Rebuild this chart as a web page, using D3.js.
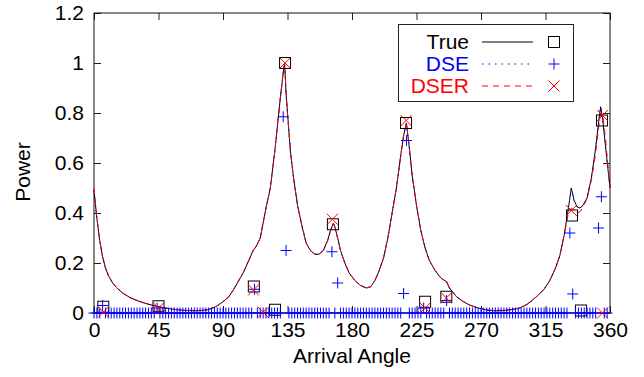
<!DOCTYPE html>
<html>
<head>
<meta charset="utf-8">
<script src="https://cdn.jsdelivr.net/npm/d3@7"></script>
<style>
  body { margin: 0; background: #fff; }
  text { font-family: "Liberation Sans", Arial, sans-serif; }
</style>
</head>
<body>
<div id="chart-area"></div>
<script>
// continuous spectra (angle in degrees, power)
var curveAngles = [0, 2, 4, 6, 8, 10, 13, 16, 20, 25, 30, 35, 40, 45, 50, 55, 60, 65, 70, 75,
    80, 85, 90, 94, 97, 100, 104, 108, 111, 113, 116, 118, 120, 123, 126, 128, 130, 132, 133, 134,
    135, 137, 139, 142, 145, 148, 151, 154, 157, 160, 163, 165, 167, 168, 170, 172, 175, 178, 182, 186,
    190, 193, 196, 199, 202, 205, 208, 211, 214, 216, 218, 220, 222, 225, 228, 231, 234, 238, 242, 246,
    248, 250, 253, 257, 262, 268, 274, 280, 286, 292, 297, 302, 306, 310, 314, 318, 322, 325, 328, 331,
    333, 335, 337, 339, 341, 344, 347, 350, 352, 353.5, 355, 357, 360];

var truePower = [0.49, 0.38, 0.29, 0.225, 0.18, 0.15, 0.12, 0.1, 0.08, 0.062, 0.05, 0.04, 0.032, 0.025, 0.02, 0.015, 0.012, 0.01, 0.009, 0.01,
    0.014, 0.025, 0.045, 0.065, 0.09, 0.12, 0.16, 0.21, 0.25, 0.265, 0.3, 0.36, 0.42, 0.5, 0.64, 0.75, 0.86, 0.96, 1.0, 0.88,
    0.8, 0.65, 0.55, 0.43, 0.35, 0.28, 0.25, 0.235, 0.235, 0.25, 0.29, 0.33, 0.36, 0.345, 0.3, 0.25, 0.2, 0.16, 0.13, 0.11,
    0.1, 0.105, 0.13, 0.17, 0.22, 0.3, 0.4, 0.5, 0.63, 0.71, 0.76, 0.66, 0.55, 0.43, 0.33, 0.26, 0.21, 0.17, 0.14, 0.125,
    0.1, 0.085, 0.065, 0.048, 0.032, 0.02, 0.012, 0.009, 0.01, 0.014, 0.02, 0.034, 0.052, 0.072, 0.095, 0.13, 0.18, 0.23, 0.31, 0.42,
    0.5, 0.45, 0.425, 0.42, 0.43, 0.46, 0.54, 0.66, 0.76, 0.825, 0.77, 0.66, 0.5];

// DSE spectrum lies on top of the true one
var dsePower = truePower;

var dserPower = [0.5, 0.38, 0.29, 0.225, 0.18, 0.15, 0.12, 0.1, 0.08, 0.062, 0.05, 0.04, 0.032, 0.025, 0.02, 0.015, 0.012, 0.01, 0.009, 0.01,
    0.014, 0.025, 0.045, 0.065, 0.09, 0.12, 0.16, 0.21, 0.25, 0.265, 0.3, 0.36, 0.42, 0.5, 0.64, 0.75, 0.86, 0.96, 1.0, 0.88,
    0.8, 0.65, 0.55, 0.43, 0.35, 0.28, 0.25, 0.235, 0.235, 0.25, 0.29, 0.33, 0.36, 0.345, 0.3, 0.25, 0.2, 0.16, 0.13, 0.11,
    0.1, 0.105, 0.13, 0.17, 0.22, 0.3, 0.4, 0.5, 0.63, 0.71, 0.76, 0.66, 0.55, 0.43, 0.33, 0.26, 0.21, 0.17, 0.14, 0.125,
    0.1, 0.085, 0.065, 0.048, 0.032, 0.02, 0.012, 0.009, 0.01, 0.014, 0.02, 0.034, 0.052, 0.072, 0.095, 0.13, 0.18, 0.23, 0.31, 0.4,
    0.42, 0.41, 0.4, 0.405, 0.42, 0.46, 0.53, 0.64, 0.74, 0.8, 0.79, 0.69, 0.5];

// sparse estimates
var trueAngles = [6.5, 45, 111.5, 126.3, 133.3, 166.7, 217.7, 231, 245.8, 333.5, 339.7, 354.4];
var trueValues = [0.025, 0.027, 0.106, 0.013, 1.0, 0.355, 0.76, 0.045, 0.065, 0.39, 0.01, 0.77];

var dserAngles = [6.5, 45, 111.3, 118, 133.3, 166.3, 217.8, 231, 245.8, 333, 354.8, 354.8];
var dserValues = [0.004, 0.02, 0.092, 0.003, 1.0, 0.375, 0.77, 0.02, 0.06, 0.41, 0.79, 0.0];

// DSE on a 2 degree grid, 0..358
var dseGridStep = 2;
var dseValues = [
    0, 0, 0, 0.03, 0, 0, 0, 0, 0, 0,
    0, 0, 0, 0, 0, 0, 0, 0, 0, 0,
    0, 0, 0.02, 0, 0, 0, 0, 0, 0, 0,
    0, 0, 0, 0, 0, 0, 0, 0, 0, 0,
    0, 0, 0, 0, 0, 0, 0, 0, 0, 0,
    0, 0, 0, 0, 0, 0, 0.095, 0, 0, 0,
    0, 0, 0, 0, 0, 0, 0.785, 0.25, 0, 0,
    0, 0, 0, 0, 0, 0, 0, 0, 0, 0,
    0, 0, 0, 0.245, 0, 0.12, 0, 0, 0, 0,
    0, 0, 0, 0, 0, 0, 0, 0, 0, 0,
    0, 0, 0, 0, 0, 0, 0, 0, 0.078, 0.69,
    0, 0, 0, 0, 0, 0.02, 0, 0, 0, 0,
    0, 0, 0, 0.05, 0, 0, 0, 0, 0, 0,
    0, 0, 0, 0, 0, 0, 0, 0, 0, 0,
    0, 0, 0, 0, 0, 0, 0, 0, 0, 0,
    0, 0, 0, 0, 0, 0, 0, 0, 0, 0,
    0, 0, 0, 0, 0, 0, 0.32, 0.076, 0, 0,
    0, 0, 0, 0, 0, 0, 0.34, 0.465, 0, 0
];

var xTicks = [0, 45, 90, 135, 180, 225, 270, 315, 360];
var yTicks = [0, 0.2, 0.4, 0.6, 0.8, 1, 1.2];

var legendNames = ['True', 'DSE', 'DSER'];
var seriesColors = ['#000000', '#0000ff', '#ff0000'];

var margin = { left: 94, right: 34, top: 13, bottom: 64 };
var width = 644 - margin.left - margin.right;
var height = 377 - margin.top - margin.bottom;
var fontSize = '21px';
var tickLen = 7;

var svg = d3.select('#chart-area')
    .append('svg')
    .attr('width', 644)
    .attr('height', 377);

var g = svg.append('g')
    .attr('transform', 'translate(' + margin.left + ', ' + margin.top + ')');

var x = d3.scaleLinear().domain([0, 360]).range([0, width]);
var y = d3.scaleLinear().domain([0, 1.2]).range([height, 0]);

// axes with mirrored inward ticks
var xAxisGroup = g.append('g').attr('transform', 'translate(0,' + height + ')')
    .call(d3.axisBottom(x).tickValues(xTicks).tickSizeInner(-tickLen).tickSizeOuter(0).tickPadding(9));
var xTopGroup = g.append('g')
    .call(d3.axisTop(x).tickValues(xTicks).tickSizeInner(-tickLen).tickSizeOuter(0).tickFormat(''));
var yAxisGroup = g.append('g')
    .call(d3.axisLeft(y).tickValues(yTicks).tickSizeInner(-tickLen).tickSizeOuter(0).tickPadding(10).tickFormat(d3.format('')));
var yRightGroup = g.append('g').attr('transform', 'translate(' + width + ',0)')
    .call(d3.axisRight(y).tickValues(yTicks).tickSizeInner(-tickLen).tickSizeOuter(0).tickFormat(''));

[xAxisGroup, xTopGroup, yAxisGroup, yRightGroup].forEach(function (a) {
    a.select('.domain').remove();
    a.selectAll('line').attr('stroke', '#222');
    a.selectAll('text')
        .attr('font-size', fontSize)
        .attr('font-family', '"Liberation Sans", Arial, sans-serif')
        .attr('fill', '#000');
});
xAxisGroup.selectAll('text').attr('dy', '0.71em');

g.append('rect')
    .attr('x', 0).attr('y', 0)
    .attr('width', width).attr('height', height)
    .attr('fill', 'none').attr('stroke', '#111').attr('stroke-width', 1);

g.append('text')
    .attr('x', width / 2)
    .attr('y', height + 50)
    .attr('font-size', fontSize)
    .attr('text-anchor', 'middle')
    .text('Arrival Angle');

g.append('text')
    .attr('transform', 'rotate(-90)')
    .attr('x', -(172 - margin.top))
    .attr('y', -64)
    .attr('font-size', fontSize)
    .attr('text-anchor', 'middle')
    .text('Power');

// curves
var line = d3.line()
    .x(function (d) { return x(d[0]); })
    .y(function (d) { return y(d[1]); });

function pairs(xs, ys) {
    return xs.map(function (a, i) { return [a, ys[i]]; });
}

var dashes = [null, '1.5,5', '6,5'];
[truePower, dsePower, dserPower].forEach(function (vals, i) {
    g.append('path')
        .datum(pairs(curveAngles, vals))
        .attr('d', line)
        .attr('fill', 'none')
        .attr('stroke', seriesColors[i])
        .attr('stroke-width', 1)
        .attr('stroke-dasharray', dashes[i]);
});

// marker shapes
var ms = 5.5;
function drawSquare(sel, cx, cy) {
    sel.append('rect')
        .attr('x', cx - ms).attr('y', cy - ms)
        .attr('width', 2 * ms).attr('height', 2 * ms)
        .attr('fill', 'none').attr('stroke', '#000').attr('stroke-width', 1);
}
function drawPlus(sel, cx, cy) {
    sel.append('path')
        .attr('d', 'M' + (cx - ms) + ',' + cy + 'H' + (cx + ms) + 'M' + cx + ',' + (cy - ms) + 'V' + (cy + ms))
        .attr('stroke', '#0000ff').attr('stroke-width', 1).attr('fill', 'none');
}
function drawCross(sel, cx, cy) {
    sel.append('path')
        .attr('d', 'M' + (cx - ms) + ',' + (cy - ms) + 'L' + (cx + ms) + ',' + (cy + ms) +
            'M' + (cx - ms) + ',' + (cy + ms) + 'L' + (cx + ms) + ',' + (cy - ms))
        .attr('stroke', '#ff0000').attr('stroke-width', 1).attr('fill', 'none');
}

var pts = g.append('g');
trueAngles.forEach(function (a, i) { drawSquare(pts, x(a), y(trueValues[i])); });
dseValues.forEach(function (v, i) { drawPlus(pts, x(i * dseGridStep), y(v)); });
dserAngles.forEach(function (a, i) { drawCross(pts, x(a), y(dserValues[i])); });

// legend
var legend = svg.append('g');
legend.append('rect')
    .attr('x', 398.5).attr('y', 24.5)
    .attr('width', 175).attr('height', 77)
    .attr('fill', '#fff').attr('stroke', '#222').attr('stroke-width', 1);

var markerFns = [drawSquare, drawPlus, drawCross];
legendNames.forEach(function (name, i) {
    var cy = 42 + i * 22;
    legend.append('text')
        .attr('x', 469)
        .attr('y', cy)
        .attr('dy', '0.35em')
        .attr('text-anchor', 'end')
        .attr('font-size', fontSize)
        .attr('fill', seriesColors[i])
        .text(name);
    legend.append('line')
        .attr('x1', 482).attr('x2', 533)
        .attr('y1', cy).attr('y2', cy)
        .attr('stroke', seriesColors[i])
        .attr('stroke-width', 1)
        .attr('stroke-dasharray', dashes[i]);
    markerFns[i](legend, 554, cy);
});
</script>
</body>
</html>
